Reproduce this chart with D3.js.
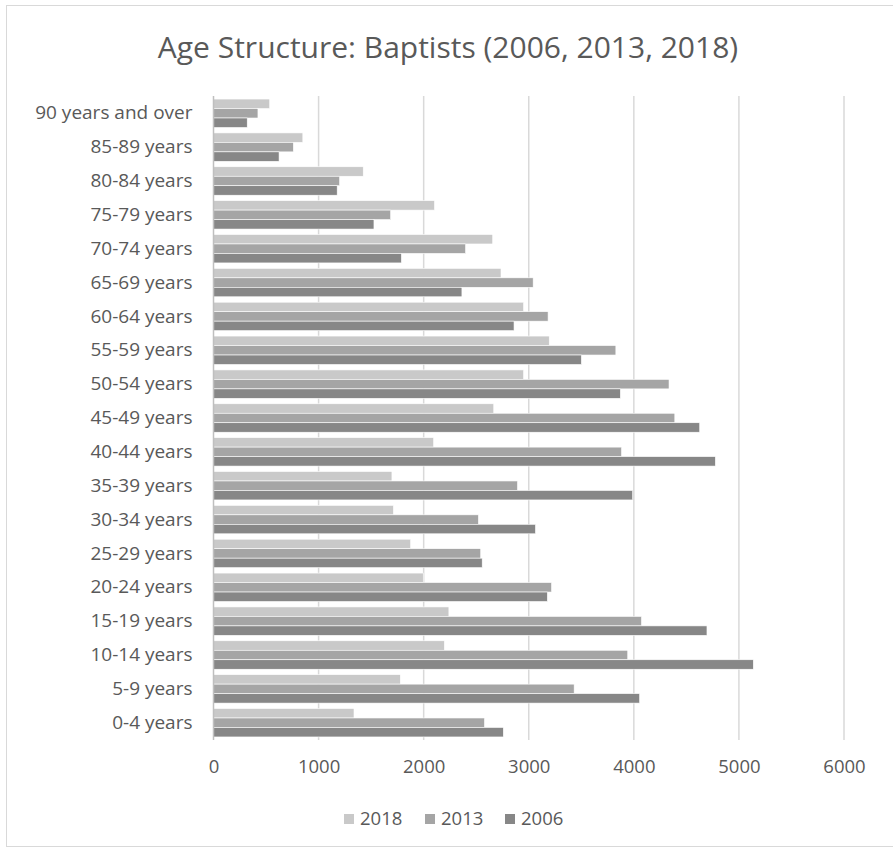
<!DOCTYPE html>
<html>
<head>
<meta charset="utf-8">
<script src="https://cdn.jsdelivr.net/npm/d3@7"></script>
<style>
  html, body { margin: 0; padding: 0; background: #fff; }
  svg { display: block; }
  text { font-family: "Open Sans", "Noto Sans", sans-serif; fill: #595959; }
</style>
</head>
<body>
<svg id="chart" width="893" height="851"></svg>
<script>
// Age groups, listed top to bottom
const ageGroups = [
  "90 years and over", "85-89 years", "80-84 years", "75-79 years", "70-74 years",
  "65-69 years", "60-64 years", "55-59 years", "50-54 years", "45-49 years",
  "40-44 years", "35-39 years", "30-34 years", "25-29 years", "20-24 years",
  "15-19 years", "10-14 years", "5-9 years", "0-4 years"
];

// Census years, in the order they are stacked within each group
const years = ["2018", "2013", "2006"];

const values2018 = [535, 850, 1425, 2103, 2657, 2736, 2951, 3195, 2951, 2667,
                    2095, 1698, 1712, 1876, 1996, 2240, 2197, 1778, 1337];
const values2013 = [423, 760, 1200, 1686, 2399, 3042, 3184, 3829, 4335, 4390,
                    3883, 2893, 2521, 2543, 3217, 4073, 3942, 3432, 2579];
const values2006 = [321, 624, 1177, 1527, 1788, 2364, 2860, 3501, 3872, 4627,
                    4776, 3989, 3064, 2557, 3177, 4696, 5137, 4055, 2758];

const xTicks = [0, 1000, 2000, 3000, 4000, 5000, 6000];

const seriesValues = { "2018": values2018, "2013": values2013, "2006": values2006 };
const colors = { "2018": "#c9c9c9", "2013": "#a5a5a5", "2006": "#878787" };

const svg = d3.select("#chart");

// Outer chart frame
svg.append("rect")
  .attr("x", 6.5).attr("y", 5.5).attr("width", 892).attr("height", 841)
  .attr("fill", "none").attr("stroke", "#d9d9d9").attr("stroke-width", 1);

// Title
svg.append("text")
  .attr("x", 448).attr("y", 58)
  .attr("text-anchor", "middle")
  .style("font-size", "30px")
  .text("Age Structure: Baptists (2006, 2013, 2018)");

const plotTop = 96, plotBottom = 740;

const x = d3.scaleLinear().domain([0, 6000]).range([213.5, 844]);
const y = d3.scaleBand().domain(ageGroups).range([plotTop, plotBottom])
  .paddingInner(0.16).paddingOuter(0.09);
const ySub = d3.scaleBand().domain(years).range([0, y.bandwidth()]);

// Vertical gridlines
svg.append("g").selectAll("line")
  .data(xTicks.filter(t => t > 0))
  .join("line")
  .attr("x1", d => x(d)).attr("x2", d => x(d))
  .attr("y1", plotTop).attr("y2", plotBottom)
  .attr("stroke", "#d9d9d9").attr("stroke-width", 1.5);

// Bars
const groups = svg.append("g").selectAll("g")
  .data(ageGroups)
  .join("g")
  .attr("transform", d => `translate(0,${y(d)})`);

groups.selectAll("rect")
  .data((d, i) => years.map(yr => ({ year: yr, value: seriesValues[yr][i] })))
  .join("rect")
  .attr("x", x(0))
  .attr("y", d => ySub(d.year))
  .attr("width", d => x(d.value) - x(0))
  .attr("height", ySub.bandwidth())
  .attr("fill", d => colors[d.year])
  .attr("stroke", "#ffffff")
  .attr("stroke-width", 0.6);

// Category axis line
svg.append("line")
  .attr("x1", x(0)).attr("x2", x(0))
  .attr("y1", plotTop).attr("y2", plotBottom)
  .attr("stroke", "#bfbfbf").attr("stroke-width", 1.5);

// Category labels
const yAxis = d3.axisLeft(y).tickSize(0).tickPadding(21);
const yg = svg.append("g").attr("transform", `translate(${x(0)},0)`).call(yAxis);
yg.select(".domain").remove();
yg.selectAll("text")
  .style("font-size", "19px")
  .style("font-family", "\"Open Sans\", sans-serif")
  .attr("fill", "#595959");

// Value axis labels
const xAxis = d3.axisBottom(x).tickValues(xTicks).tickSize(0).tickPadding(20)
  .tickFormat(d3.format("d"));
const xg = svg.append("g").attr("transform", `translate(0,${plotBottom})`).call(xAxis);
xg.select(".domain").remove();
xg.selectAll("text")
  .style("font-size", "18.5px")
  .style("font-family", "\"Open Sans\", sans-serif")
  .attr("fill", "#595959");

// Legend
const legendX = [344, 425, 505];
const legend = svg.append("g").selectAll("g")
  .data(years)
  .join("g")
  .attr("transform", (d, i) => `translate(${legendX[i]},819)`);
legend.append("rect")
  .attr("x", 0).attr("y", -5).attr("width", 10).attr("height", 10)
  .attr("fill", d => colors[d]);
legend.append("text")
  .attr("x", 16).attr("y", 0).attr("dy", "0.35em")
  .style("font-size", "18.5px")
  .text(d => d);
</script>
</body>
</html>
